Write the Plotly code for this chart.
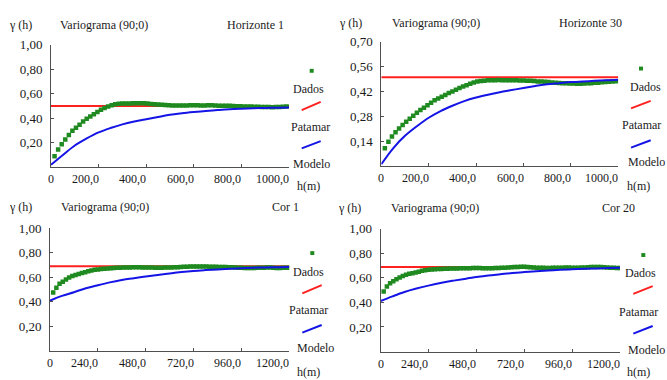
import plotly.graph_objects as go

# ---------------- data ----------------
lag_top = [15, 30, 45, 60, 75, 90, 105, 120, 135, 150, 165, 180, 195, 210, 225,
           240, 255, 270, 285, 300, 315, 330, 345, 360, 375, 390, 405, 420, 435, 450,
           465, 480, 495, 510, 525, 540, 555, 570, 585, 600, 615, 630, 645, 660, 675,
           690, 705, 720, 735, 750, 765, 780, 795, 810, 825, 840, 855, 870, 885, 900,
           915, 930, 945, 960, 975, 990]
h1_data = [0.09, 0.145, 0.188, 0.226, 0.263, 0.297, 0.322, 0.347, 0.373, 0.395,
           0.414, 0.433, 0.451, 0.468, 0.483, 0.496, 0.506, 0.513, 0.517, 0.519,
           0.52, 0.52, 0.521, 0.521, 0.521, 0.522, 0.52, 0.516, 0.513, 0.511,
           0.509, 0.507, 0.505, 0.504, 0.503, 0.503, 0.503, 0.504, 0.505, 0.505,
           0.505, 0.504, 0.504, 0.505, 0.505, 0.504, 0.502, 0.502, 0.502, 0.501,
           0.499, 0.498, 0.498, 0.496, 0.495, 0.495, 0.494, 0.493, 0.492, 0.491,
           0.491, 0.49, 0.491, 0.492, 0.494, 0.495]
h30_data = [0.10, 0.137, 0.167, 0.191, 0.212, 0.231, 0.25, 0.267, 0.283, 0.30,
            0.316, 0.329, 0.342, 0.357, 0.371, 0.381, 0.391, 0.401, 0.411, 0.42,
            0.43, 0.44, 0.448, 0.456, 0.464, 0.471, 0.476, 0.479, 0.481, 0.483,
            0.484, 0.484, 0.485, 0.484, 0.483, 0.483, 0.484, 0.483, 0.482, 0.482,
            0.481, 0.48, 0.479, 0.477, 0.476, 0.475, 0.473, 0.471, 0.47, 0.468,
            0.467, 0.466, 0.465, 0.465, 0.464, 0.464, 0.465, 0.466, 0.467, 0.469,
            0.47, 0.472, 0.473, 0.475, 0.476, 0.478]
model_lag_top = [0, 50, 100, 150, 200, 250, 300, 350, 400, 450, 500,
                 550, 600, 650, 700, 750, 800, 850, 900, 950, 1000]
h1_model = [0.02, 0.10, 0.178, 0.235, 0.284, 0.32, 0.35, 0.373, 0.392, 0.41, 0.428,
            0.44, 0.45, 0.459, 0.467, 0.474, 0.478, 0.481, 0.484, 0.486, 0.488]
h30_model = [0.01, 0.10, 0.17, 0.224, 0.272, 0.31, 0.34, 0.366, 0.386, 0.402, 0.416,
             0.428, 0.44, 0.451, 0.461, 0.467, 0.473, 0.477, 0.48, 0.484, 0.487]

lag_bot = [16, 32, 48, 64, 80, 96, 112, 128, 144, 160, 176, 192, 208, 224, 240,
           256, 272, 288, 304, 320, 336, 352, 368, 384, 400, 416, 432, 448, 464, 480,
           496, 512, 528, 544, 560, 576, 592, 608, 624, 640, 656, 672, 688, 704, 720,
           736, 752, 768, 784, 800, 816, 832, 848, 864, 880, 896, 912, 928, 944, 960,
           976, 992, 1008, 1024, 1040, 1056, 1072, 1088, 1104, 1120, 1136, 1152, 1168, 1184, 1200]
cor1_data = [0.475, 0.515, 0.546, 0.564, 0.582, 0.597, 0.609, 0.618, 0.627, 0.635,
             0.641, 0.649, 0.655, 0.66, 0.664, 0.667, 0.67, 0.672, 0.674, 0.675,
             0.677, 0.678, 0.679, 0.679, 0.68, 0.681, 0.681, 0.681, 0.68, 0.68,
             0.68, 0.679, 0.678, 0.678, 0.678, 0.679, 0.679, 0.68, 0.681, 0.682,
             0.684, 0.685, 0.686, 0.687, 0.688, 0.688, 0.688, 0.687, 0.687, 0.686,
             0.686, 0.685, 0.684, 0.683, 0.683, 0.682, 0.681, 0.68, 0.678, 0.677,
             0.676, 0.675, 0.675, 0.676, 0.677, 0.677, 0.678, 0.68, 0.679, 0.678,
             0.676, 0.676, 0.677, 0.678, 0.678]
cor20_data = [0.49, 0.53, 0.557, 0.573, 0.59, 0.604, 0.615, 0.626, 0.633, 0.639,
              0.645, 0.651, 0.658, 0.663, 0.666, 0.668, 0.67, 0.672, 0.673, 0.674,
              0.675, 0.676, 0.676, 0.677, 0.678, 0.678, 0.679, 0.679, 0.68, 0.68,
              0.68, 0.679, 0.679, 0.678, 0.679, 0.68, 0.681, 0.682, 0.683, 0.684,
              0.686, 0.688, 0.69, 0.692, 0.691, 0.689, 0.686, 0.684, 0.683, 0.682,
              0.682, 0.681, 0.681, 0.682, 0.682, 0.683, 0.683, 0.684, 0.684, 0.683,
              0.683, 0.683, 0.684, 0.685, 0.686, 0.688, 0.69, 0.69, 0.689, 0.687,
              0.685, 0.683, 0.682, 0.681, 0.68]
model_lag_bot = [0, 60, 120, 180, 240, 300, 360, 420, 480, 540, 600,
                 660, 720, 780, 840, 900, 960, 1020, 1080, 1140, 1200]
cor1_model = [0.41, 0.448, 0.478, 0.51, 0.535, 0.558, 0.577, 0.592, 0.606, 0.619, 0.631,
              0.642, 0.651, 0.658, 0.664, 0.669, 0.673, 0.677, 0.68, 0.682, 0.684]
cor20_model = [0.412, 0.45, 0.485, 0.513, 0.537, 0.558, 0.576, 0.592, 0.607, 0.62, 0.63,
               0.64, 0.648, 0.655, 0.661, 0.666, 0.67, 0.674, 0.677, 0.68, 0.683]

sill_h1 = 0.50
sill_h30 = 0.50
sill_cor1 = 0.69
sill_cor20 = 0.69

x_ticks_top = [0, 200, 400, 600, 800, 1000]
x_ticklabels_top = ["0", "200,0", "400,0", "600,0", "800,0", "1000,0"]
x_ticks_bot = [0, 240, 480, 720, 960, 1200]
x_ticklabels_bot = ["0", "240,0", "480,0", "720,0", "960,0", "1200,0"]
y_ticks_a = [0.2, 0.4, 0.6, 0.8, 1.0]
y_ticklabels_a = ["0,20", "0,40", "0,60", "0,80", "1,00"]
y_ticks_b = [0.14, 0.28, 0.42, 0.56, 0.70]
y_ticklabels_b = ["0,14", "0,28", "0,42", "0,56", "0,70"]

title_main = "Variograma (90;0)"
y_title = "γ (h)"
x_title = "h(m)"
panel_names = ["Horizonte 1", "Horizonte 30", "Cor 1", "Cor 20"]
legend_labels = ["Dados", "Patamar", "Modelo"]

# ---------------- layout helpers ----------------
W, H = 667, 380
def px(x):
    return x / W
def py(y):
    return 1 - y / H

FONT = "Liberation Serif, Times New Roman, serif"
TXT = "#1a1a1a"
GREEN = "#1f8a1f"
RED = "#ff2020"
BLUE = "#1414e6"
AXC = "#505050"

panels = [
    dict(lag=lag_top, data=h1_data, mlag=model_lag_top, model=h1_model, sill=sill_h1,
         xt=x_ticks_top, xtt=x_ticklabels_top, yt=y_ticks_a, ytt=y_ticklabels_a, yr=[0, 1.0],
         xd=(51, 289), yd=(163.3, 38.3), name=panel_names[0],
         gam=(20, 18), var=(58, 18), nm=(225, 18),
         dot=(311.7, 65), dados=(308, 84), red=((301.7, 105), (320.7, 96.7)), pat=(310, 122.7),
         blue=((301.7, 144), (320.7, 136.7)), mod=(311.7, 160), hm=(308.3, 182.5)),
    dict(lag=lag_top, data=h30_data, mlag=model_lag_top, model=h30_model, sill=sill_h30,
         xt=x_ticks_top, xtt=x_ticklabels_top, yt=y_ticks_b, ytt=y_ticklabels_b, yr=[0, 0.70],
         xd=(381.3, 618.3), yd=(162, 35.5), name=panel_names[1],
         gam=(350.7, 16), var=(390, 16), nm=(556.7, 16),
         dot=(641, 62.7), dados=(645, 81), red=((631, 103.3), (650.7, 95.7)), pat=(641.7, 120),
         blue=((631, 143.3), (650.7, 135.7)), mod=(646.7, 158.3), hm=(638, 182.5)),
    dict(lag=lag_bot, data=cor1_data, mlag=model_lag_bot, model=cor1_model, sill=sill_cor1,
         xt=x_ticks_bot, xtt=x_ticklabels_bot, yt=y_ticks_a, ytt=y_ticklabels_a, yr=[0, 1.0],
         xd=(50, 289.3), yd=(350.3, 225.3), name=panel_names[2],
         gam=(20, 203.3), var=(59, 203.3), nm=(270, 203.3),
         dot=(312.3, 250.7), dados=(308.3, 270), red=((302.3, 291.7), (321.7, 283.3)), pat=(308.3, 308.3),
         blue=((302.3, 331.7), (321.7, 324)), mod=(315, 347.3), hm=(308.3, 372)),
    dict(lag=lag_bot, data=cor20_data, mlag=model_lag_bot, model=cor20_model, sill=sill_cor20,
         xt=x_ticks_bot, xtt=x_ticklabels_bot, yt=y_ticks_a, ytt=y_ticklabels_a, yr=[0, 1.0],
         xd=(380.5, 620), yd=(351, 226), name=panel_names[3],
         gam=(350, 205), var=(389, 205), nm=(600, 205),
         dot=(643.3, 252.7), dados=(640, 271), red=((633.3, 292.3), (652.7, 284.3)), pat=(638.3, 311),
         blue=((633.3, 332.7), (652.7, 325)), mod=(646.7, 349), hm=(638.3, 372)),
]

fig = go.Figure()
layout = dict(width=W, height=H, margin=dict(l=0, r=0, t=0, b=0),
              paper_bgcolor="white", plot_bgcolor="white", showlegend=False,
              font=dict(family=FONT, size=12, color=TXT))
annotations = []
shapes = []

def ann(x, y, text, xanchor="center", size=12, **kw):
    annotations.append(dict(x=px(x), y=py(y), xref="paper", yref="paper", text=text,
                            showarrow=False, xanchor=xanchor, yanchor="middle",
                            font=dict(family=FONT, size=size, color=TXT), **kw))

for i, p in enumerate(panels):
    k = "" if i == 0 else str(i + 1)
    xa, ya = "x" + k, "y" + k
    xmax = p["xt"][-1]
    # sill
    fig.add_trace(go.Scatter(x=[0, xmax], y=[p["sill"], p["sill"]], mode="lines",
                             line=dict(color=RED, width=2), xaxis=xa, yaxis=ya))
    # experimental data
    fig.add_trace(go.Scatter(x=p["lag"], y=p["data"], mode="markers",
                             marker=dict(symbol="square", size=4.5, color=GREEN,
                                         line=dict(width=0)), xaxis=xa, yaxis=ya))
    # model
    fig.add_trace(go.Scatter(x=p["mlag"], y=p["model"], mode="lines", line_shape="spline",
                             line=dict(color=BLUE, width=2), xaxis=xa, yaxis=ya))

    layout["xaxis" + k] = dict(domain=[px(p["xd"][0]), px(p["xd"][1])], range=[0, xmax],
                               anchor=ya, showgrid=False, zeroline=False, showline=True,
                               linecolor=AXC, linewidth=1, ticks="inside", ticklen=3,
                               tickcolor=AXC, tickvals=p["xt"], showticklabels=False)
    layout["yaxis" + k] = dict(domain=[py(p["yd"][0]), py(p["yd"][1])], range=p["yr"],
                               anchor=xa, showgrid=False, zeroline=False, showline=True,
                               linecolor=AXC, linewidth=1, ticks="inside", ticklen=3,
                               tickcolor=AXC, tickvals=p["yt"], ticktext=p["ytt"],
                               tickfont=dict(family=FONT, size=13, color=TXT),
                               ticklabelstandoff=5)
    # x tick labels (right-aligned to the tick, as in the source)
    for v, t in zip(p["xt"], p["xtt"]):
        annotations.append(dict(x=v, y=0, xref=xa, yref=ya, text=t, showarrow=False,
                                xanchor="center" if v == 0 else "right", yanchor="top",
                                xshift=0 if v == 0 else 2, yshift=-3,
                                font=dict(family=FONT, size=12, color=TXT)))
    # titles
    ann(p["gam"][0], p["gam"][1], y_title)
    ann(p["var"][0], p["var"][1], title_main, xanchor="left")
    ann(p["nm"][0], p["nm"][1], p["name"], xanchor="left")
    # legend
    d = p["dot"]
    shapes.append(dict(type="rect", xref="paper", yref="paper",
                       x0=px(d[0] - 2), x1=px(d[0] + 2), y0=py(d[1] + 2), y1=py(d[1] - 2),
                       fillcolor=GREEN, line=dict(width=0)))
    for seg, col in ((p["red"], RED), (p["blue"], BLUE)):
        shapes.append(dict(type="line", xref="paper", yref="paper",
                           x0=px(seg[0][0]), y0=py(seg[0][1]), x1=px(seg[1][0]), y1=py(seg[1][1]),
                           line=dict(color=col, width=2)))
    ann(p["dados"][0], p["dados"][1], legend_labels[0])
    ann(p["pat"][0], p["pat"][1], legend_labels[1])
    ann(p["mod"][0], p["mod"][1], legend_labels[2])
    ann(p["hm"][0], p["hm"][1], x_title)

layout["annotations"] = annotations
layout["shapes"] = shapes
fig.update_layout(**layout)
fig.write_html("out.html", config={"displayModeBar": False},
               post_script="document.body.style.margin='0';document.body.style.overflow='hidden';")
